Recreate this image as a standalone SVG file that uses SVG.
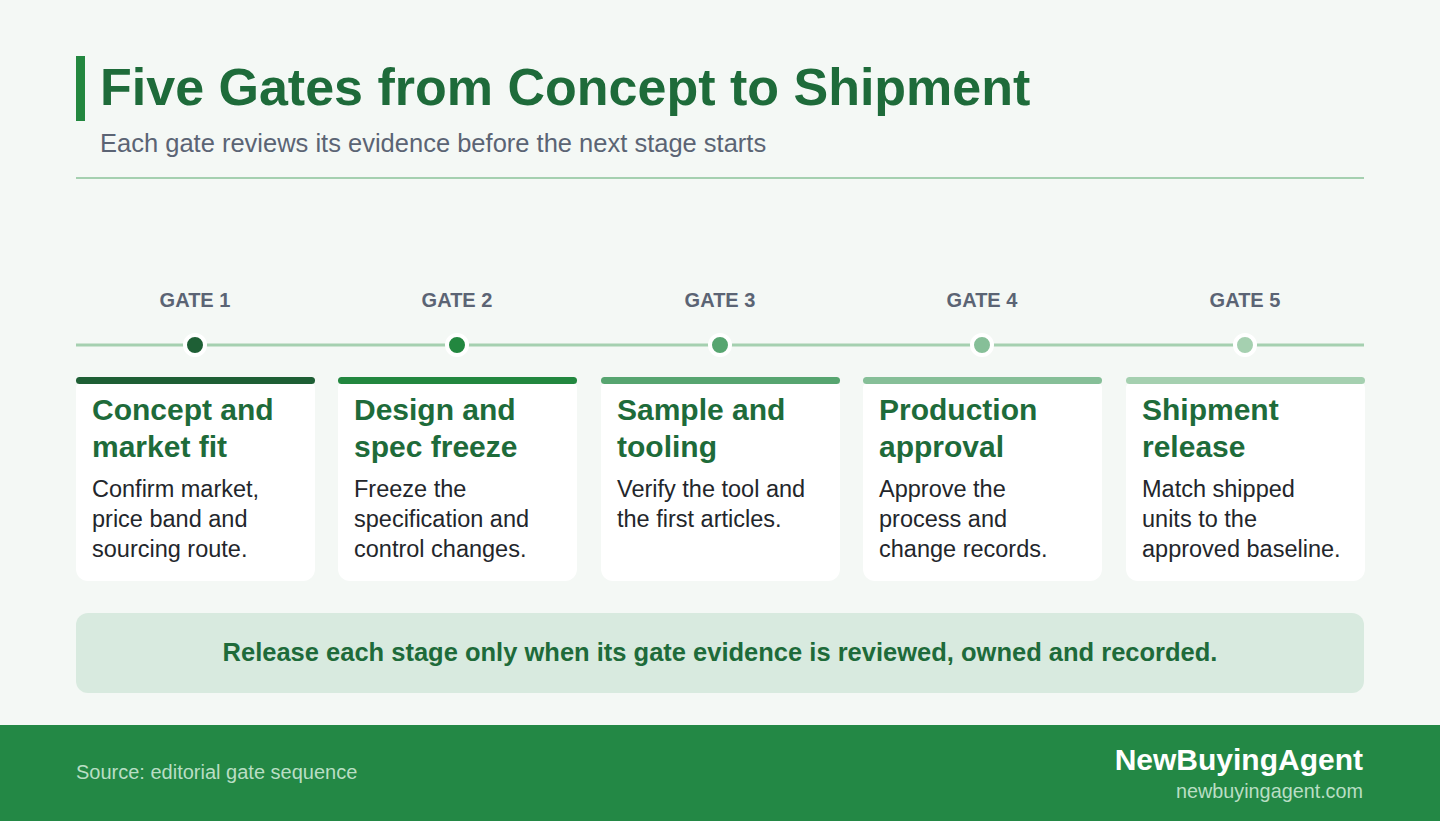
<svg xmlns="http://www.w3.org/2000/svg" width="1440" height="821" viewBox="0 0 1440 821">
<style>
text{font-family:"Liberation Sans",Arial,sans-serif}
.title{font-size:52px;font-weight:bold;fill:#1e6b3a}
.sub{font-size:25.5px;fill:#5b6474}
.gate{font-size:20px;font-weight:bold;fill:#5b6474;text-anchor:middle}
.ct{font-size:30px;font-weight:bold;fill:#1e6b3a}
.cb{font-size:23.5px;fill:#23262b}
.card{fill:#ffffff}
.ring{stroke:#ffffff;stroke-width:4}
.banner{font-size:25.5px;font-weight:bold;fill:#1e6b3a;text-anchor:middle}
.src{font-size:20px;fill:#b9dec4}
.brand{font-size:30px;font-weight:bold;fill:#ffffff;text-anchor:end}
.url{font-size:19.8px;fill:#b9dec4;text-anchor:end}
</style>
<rect width="1440" height="821" fill="#f4f8f5"/>
<g id="header">
<rect x="76" y="56" width="9" height="65" fill="#22873f"/>
<text class="title" x="100" y="105">Five Gates from Concept to Shipment</text>
<text class="sub" x="100" y="152">Each gate reviews its evidence before the next stage starts</text>
<rect x="76" y="177" width="1288" height="2" fill="#a5d0b0"/>
</g>
<g id="connectors">
<line x1="76" y1="345" x2="1364" y2="345" stroke="#a5d0b0" stroke-width="3"/>
</g>
<g id="gate1">
<text class="gate" x="195" y="307">GATE 1</text>
<circle class="ring" cx="195" cy="345" r="10" fill="#1e5f35"/>
<rect class="card" x="76" y="377" width="239" height="204" rx="12"/>
<rect x="76" y="377" width="239" height="7" rx="3.5" fill="#1e5f35"/>
<text class="ct" x="92" y="420">Concept and</text>
<text class="ct" x="92" y="457">market fit</text>
<text class="cb" x="92" y="497">Confirm market,</text>
<text class="cb" x="92" y="527">price band and</text>
<text class="cb" x="92" y="557">sourcing route.</text>
</g>
<g id="gate2">
<text class="gate" x="457" y="307">GATE 2</text>
<circle class="ring" cx="457" cy="345" r="10" fill="#22873f"/>
<rect class="card" x="338" y="377" width="239" height="204" rx="12"/>
<rect x="338" y="377" width="239" height="7" rx="3.5" fill="#22873f"/>
<text class="ct" x="354" y="420">Design and</text>
<text class="ct" x="354" y="457">spec freeze</text>
<text class="cb" x="354" y="497">Freeze the</text>
<text class="cb" x="354" y="527">specification and</text>
<text class="cb" x="354" y="557">control changes.</text>
</g>
<g id="gate3">
<text class="gate" x="720" y="307">GATE 3</text>
<circle class="ring" cx="720" cy="345" r="10" fill="#57a570"/>
<rect class="card" x="601" y="377" width="239" height="204" rx="12"/>
<rect x="601" y="377" width="239" height="7" rx="3.5" fill="#57a570"/>
<text class="ct" x="617" y="420">Sample and</text>
<text class="ct" x="617" y="457">tooling</text>
<text class="cb" x="617" y="497">Verify the tool and</text>
<text class="cb" x="617" y="527">the first articles.</text>
</g>
<g id="gate4">
<text class="gate" x="982" y="307">GATE 4</text>
<circle class="ring" cx="982" cy="345" r="10" fill="#86bf98"/>
<rect class="card" x="863" y="377" width="239" height="204" rx="12"/>
<rect x="863" y="377" width="239" height="7" rx="3.5" fill="#86bf98"/>
<text class="ct" x="879" y="420">Production</text>
<text class="ct" x="879" y="457">approval</text>
<text class="cb" x="879" y="497">Approve the</text>
<text class="cb" x="879" y="527">process and</text>
<text class="cb" x="879" y="557">change records.</text>
</g>
<g id="gate5">
<text class="gate" x="1245" y="307">GATE 5</text>
<circle class="ring" cx="1245" cy="345" r="10" fill="#a5d0b0"/>
<rect class="card" x="1126" y="377" width="239" height="204" rx="12"/>
<rect x="1126" y="377" width="239" height="7" rx="3.5" fill="#a5d0b0"/>
<text class="ct" x="1142" y="420">Shipment</text>
<text class="ct" x="1142" y="457">release</text>
<text class="cb" x="1142" y="497">Match shipped</text>
<text class="cb" x="1142" y="527">units to the</text>
<text class="cb" x="1142" y="557">approved baseline.</text>
</g>
<g id="banner">
<rect x="76" y="613" width="1288" height="80" rx="12" fill="#d8eadf"/>
<text class="banner" x="720" y="661">Release each stage only when its gate evidence is reviewed, owned and recorded.</text>
</g>
<g id="footer">
<rect x="0" y="725" width="1440" height="96" fill="#238845"/>
<text class="src" x="76" y="779">Source: editorial gate sequence</text>
<text class="brand" x="1363" y="770">NewBuyingAgent</text>
<text class="url" x="1363" y="798">newbuyingagent.com</text>
</g>
</svg>
